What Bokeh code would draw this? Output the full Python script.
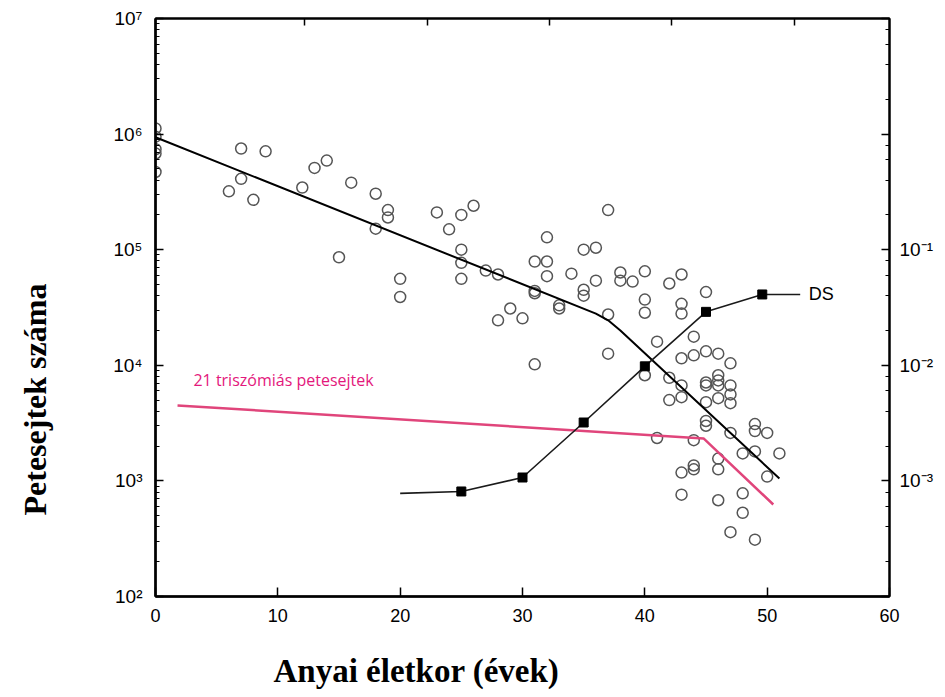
from bokeh.plotting import figure
from bokeh.models import (Range1d, LogScale, LogAxis, LinearAxis, FixedTicker, LogTicker,
                          CustomJSTickFormatter, Label, Title)
from bokeh.embed import file_html
from bokeh.resources import INLINE

# ---------------- data ----------------
follicle_age = [0, 0, 0, 0, 0, 7, 9, 7, 6, 8, 12, 13, 14, 16, 18, 19, 19, 18, 15, 20, 20,
                23, 24, 25, 26, 25, 25, 25, 27, 28, 29, 28, 30, 31, 31, 32, 31, 32, 32, 31,
                33, 33, 34, 35, 36, 35, 35, 36, 37, 37, 37, 38, 38, 39, 40, 40, 40, 41, 40,
                42, 43, 43, 43, 45, 44, 43, 44, 45, 46, 47, 42, 43, 43, 42, 45, 45, 46, 46,
                46, 47, 47, 47, 46, 45, 45, 45, 47, 49, 49, 50, 41, 44, 48, 49, 51, 46, 43,
                44, 44, 46, 50, 43, 46, 48, 48, 47, 49]
follicle_count = [1.12e6, 9.5e5, 7.4e5, 6.8e5, 4.7e5, 7.5e5, 7.1e5, 4.1e5, 3.2e5, 2.7e5,
                  3.45e5, 5.1e5, 5.9e5, 3.8e5, 3.05e5, 2.2e5, 1.9e5, 1.52e5, 8.6e4, 5.6e4,
                  3.9e4, 2.1e5, 1.5e5, 2.0e5, 2.4e5, 1.0e5, 7.7e4, 5.6e4, 6.6e4, 6.1e4,
                  3.1e4, 2.45e4, 2.55e4, 4.4e4, 4.2e4, 1.28e5, 7.9e4, 7.9e4, 5.9e4, 1.02e4,
                  3.3e4, 3.1e4, 6.2e4, 1.0e5, 1.04e5, 4.5e4, 4.0e4, 5.4e4, 2.2e5, 2.75e4,
                  1.26e4, 6.35e4, 5.4e4, 5.3e4, 6.5e4, 3.7e4, 2.85e4, 1.6e4, 8.2e3,
                  5.1e4, 6.1e4, 3.4e4, 2.8e4, 4.3e4, 1.77e4, 1.15e4, 1.22e4, 1.32e4, 1.26e4,
                  1.04e4, 7.8e3, 6.7e3, 5.3e3, 5.0e3, 7.1e3, 6.7e3, 8.2e3, 7.4e3, 6.7e3,
                  6.7e3, 5.6e3, 4.7e3, 5.2e3, 4.8e3, 3.3e3, 3.0e3, 2.6e3, 3.1e3, 2.7e3,
                  2.6e3, 2.35e3, 2.25e3, 1.73e3, 1.8e3, 1.73e3, 1.56e3, 1.18e3, 1.36e3,
                  1.26e3, 1.26e3, 1.09e3, 760, 680, 780, 530, 360, 310]

trend_age = [0, 36, 37, 38, 51]
trend_count = [9.4e5, 2.8e4, 2.45e4, 2.0e4, 1.05e3]

t21_age = [1.8, 44.8, 50.5]
t21_count = [4.5e3, 2.33e3, 6.25e2]

ds_age = [20, 25, 30, 35, 40, 45, 49.6, 52.7]
ds_rate = [7.8e-4, 8.1e-4, 1.07e-3, 3.2e-3, 9.8e-3, 2.9e-2, 4.1e-2, 4.1e-2]
ds_marker_age = [25, 30, 35, 40, 45, 49.6]
ds_marker_rate = [8.1e-4, 1.07e-3, 3.2e-3, 9.8e-3, 2.9e-2, 4.1e-2]

x_ticks = [0, 10, 20, 30, 40, 50, 60]
top_ticks = [12.2, 22.2, 32.2, 42.2, 52.2]

x_title = "Anyai életkor (évek)"
y_title = "Petesejtek száma"
t21_text = "21 triszómiás petesejtek"
ds_text = "DS"

# ---------------- figure ----------------
p = figure(width=937, height=697, x_range=Range1d(0, 60), y_range=Range1d(1e2, 1e7),
           y_axis_type="log", output_backend="svg", toolbar_location=None,
           min_border_left=155, min_border_right=48, min_border_top=18, min_border_bottom=101)
p.extra_y_ranges = {"ds": Range1d(1e-4, 1e1)}
p.extra_y_scales = {"ds": LogScale()}
p.grid.visible = False
p.outline_line_color = "black"
p.outline_line_width = 2
p.background_fill_color = "white"
p.border_fill_color = "white"

SUP = ("const sup = {'-':'\u207b','0':'\u2070','1':'\u00b9','2':'\u00b2','3':'\u00b3',"
       "'4':'\u2074','5':'\u2075','6':'\u2076','7':'\u2077','8':'\u2078','9':'\u2079'};"
       "const e = Math.round(Math.log10(tick));")
left_fmt = CustomJSTickFormatter(code=SUP + "return '10' + String(e).split('').map(c => sup[c]).join('');")
right_fmt = CustomJSTickFormatter(code=SUP + "if (e < -3 || e > -1) { return ''; }"
                                  "return '10' + String(e).split('').map(c => sup[c]).join('');")

tick_font = "Liberation Sans"

xa = p.xaxis[0]
xa.ticker = FixedTicker(ticks=x_ticks)
xa.major_tick_in = 9
xa.major_tick_out = 0
xa.minor_tick_line_color = None
xa.axis_line_width = 2.5
xa.major_tick_line_width = 1.5
xa.major_label_text_font = tick_font
xa.major_label_text_font_size = "18px"
xa.major_label_text_color = "black"
xa.major_label_standoff = 12

ya = p.yaxis[0]
ya.formatter = left_fmt
ya.major_tick_in = 8
ya.major_tick_out = 0
ya.minor_tick_in = 4
ya.minor_tick_out = 0
ya.axis_line_width = 2.5
ya.major_tick_line_width = 1.5
ya.minor_tick_line_width = 1.2
ya.major_label_text_font = tick_font
ya.major_label_text_font_size = "19px"
ya.major_label_text_color = "black"
ya.major_label_standoff = 13

ra = LogAxis(y_range_name="ds", ticker=LogTicker(), formatter=right_fmt)
ra.major_tick_in = 8
ra.major_tick_out = 0
ra.minor_tick_in = 4
ra.minor_tick_out = 0
ra.axis_line_width = 2
ra.major_tick_line_width = 1.5
ra.minor_tick_line_width = 1.2
ra.major_label_text_font = tick_font
ra.major_label_text_font_size = "19px"
ra.major_label_text_color = "black"
ra.major_label_standoff = 10
p.add_layout(ra, "right")

ta = LinearAxis(ticker=FixedTicker(ticks=top_ticks),
                formatter=CustomJSTickFormatter(code="return '';"))
ta.major_tick_in = 7
ta.major_tick_out = 0
ta.minor_tick_line_color = None
ta.axis_line_width = 2
ta.major_tick_line_width = 1.5
ta.major_label_text_font_size = "1px"
ta.major_label_standoff = 0
p.add_layout(ta, "above")


def spacer(extent, tick):
    # invisible axis that only reserves room between an axis and its title
    ax = LinearAxis(ticker=FixedTicker(ticks=[tick]),
                    formatter=CustomJSTickFormatter(code="return '';"))
    ax.axis_line_color = None
    ax.major_tick_line_color = None
    ax.minor_tick_line_color = None
    ax.major_tick_in = 0
    ax.major_tick_out = extent
    ax.minor_tick_out = 0
    ax.major_label_text_font_size = "1px"
    ax.major_label_standoff = 0
    return ax


p.add_layout(spacer(25, 10), "below")
p.add_layout(spacer(56, 1e3), "left")

# ---------------- axis titles (offset like the reference) ----------------
p.add_layout(Title(text=x_title, align="left", offset=118, standoff=2,
                   text_font="Liberation Serif", text_font_style="bold",
                   text_font_size="33px", text_color="black"), "below")
p.add_layout(Title(text=y_title, align="left", offset=81, standoff=4,
                   text_font="Liberation Serif", text_font_style="bold",
                   text_font_size="32px", text_color="black"), "left")

# ---------------- glyphs ----------------
p.scatter(follicle_age, follicle_count, marker="circle", size=11, fill_color=None,
          line_color="#555555", line_width=1.5)
p.line(trend_age, trend_count, line_color="black", line_width=2)
p.line(t21_age, t21_count, line_color="#e0457b", line_width=2.5)
p.line(ds_age, ds_rate, y_range_name="ds", line_color="#1a1a1a", line_width=1.6)
p.scatter(ds_marker_age, ds_marker_rate, y_range_name="ds", marker="square", size=9,
          fill_color="black", line_color="black")

# ---------------- texts ----------------
p.add_layout(Label(x=53.4, y=ds_rate[-1], y_range_name="ds", text=ds_text,
                   text_font="Liberation Sans", text_font_size="18px",
                   text_baseline="middle", text_color="black"))
p.add_layout(Label(x=3.1, y=7.4e3, text=t21_text, text_font="Open Sans",
                   text_font_size="16px", text_baseline="middle", text_color="#e3187c"))

with open("out.html", "w", encoding="utf-8") as f:
    f.write(file_html(p, INLINE))
